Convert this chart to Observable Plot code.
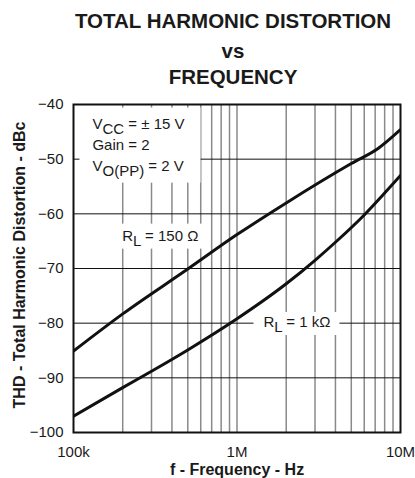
<!DOCTYPE html>
<html>
<head>
<meta charset="utf-8">
<script src="https://cdn.jsdelivr.net/npm/d3@7"></script>
<script src="https://cdn.jsdelivr.net/npm/@observablehq/plot@0.6"></script>
<style>
  html, body { margin: 0; padding: 0; background: #fff; }
  svg { display: block; }
</style>
</head>
<body>
<div id="chart"></div>
<script>
// ---- data ----
const titleLines = ["TOTAL HARMONIC DISTORTION", "vs", "FREQUENCY"];
const xLabel = "f - Frequency - Hz";
const yLabel = "THD - Total Harmonic Distortion - dBc";

const xTicks = [1e5, 1e6, 1e7];
const xTickLabels = ["100k", "1M", "10M"];
const yTicks = [-100, -90, -80, -70, -60, -50, -40];
const yTickLabels = ["\u2212100", "\u221290", "\u221280", "\u221270", "\u221260", "\u221250", "\u221240"];

const gridFreqs = [2e5, 3e5, 4e5, 5e5, 6e5, 7e5, 8e5, 9e5, 1e6,
                   2e6, 3e6, 4e6, 5e6, 6e6, 7e6, 8e6, 9e6];
const gridLevels = [-90, -80, -70, -60, -50];

// R_L = 150 ohm
const freq150 = [1e5, 2e5, 5e5, 1e6, 2e6, 5e6, 7.33e6, 1e7];
const thd150  = [-85.1, -78.3, -70.1, -63.8, -58.0, -50.8, -48.0, -44.6];

// R_L = 1 kohm
const freq1k = [1e5, 2e5, 3e5, 5e5, 1e6, 2e6, 3e6, 4e6, 6e6, 8e6, 1e7];
const thd1k  = [-97.0, -91.8, -88.8, -84.9, -79.2, -72.8, -68.5, -65.2, -60.2, -56.2, -53.0];

// annotations (text with _{...} = subscript)
const noteText  = ["V_{CC} = \u00b1 15 V", "Gain = 2", "V_{O(PP)} = 2 V", "R_{L} = 150 \u03a9", "R_{L} = 1 k\u03a9"];
const noteFreq  = [1.306e5, 1.306e5, 1.306e5, 1.986e5, 1.452e6];
const noteThd   = [-44.4, -48.4, -52.1, -64.9, -80.7];
const noteGroup = [0, 0, 0, 1, 2];

// ---- build tables ----
const curves = [
  ...freq150.map((f, i) => ({f, thd: thd150[i], load: "150"})),
  ...freq1k.map((f, i) => ({f, thd: thd1k[i], load: "1k"}))
];
const notes = noteText.map((text, i) => ({text, f: noteFreq[i], thd: noteThd[i], group: noteGroup[i]}));

const FONT = "'Liberation Sans', Arial, Helvetica, sans-serif";
const titleDy = [-77, -47, -21];

const chart = Plot.plot({
  width: 415,
  height: 478,
  marginLeft: 73,
  marginRight: 15,
  marginTop: 104,
  marginBottom: 46,
  style: {fontFamily: FONT, fontSize: "15px", color: "#1a1a1a", background: "#fff"},
  x: {type: "log", domain: [1e5, 1e7]},
  y: {domain: [-100, -40]},
  marks: [
    Plot.ruleX(gridFreqs, {x: d => d, stroke: "#8a8a8a", strokeWidth: 1.5}),
    Plot.ruleY(gridLevels, {y: d => d, stroke: "#111", strokeWidth: 1}),
    Plot.line(curves, {x: "f", y: "thd", z: "load", stroke: "#111", strokeWidth: 3,
                       curve: "monotone-x", clip: true}),
    Plot.text(notes, {x: "f", y: "thd", text: "text", textAnchor: "start", lineAnchor: "bottom",
                      fontSize: 15, fill: "#1a1a1a"}),
    Plot.frame({stroke: "#111", strokeWidth: 2}),
    Plot.axisX({ticks: xTicks, tickFormat: d => xTickLabels[xTicks.indexOf(d)],
                tickSize: 0, tickPadding: 14, label: null}),
    Plot.axisY({ticks: yTicks, tickFormat: d => yTickLabels[yTicks.indexOf(d)],
                tickSize: 0, tickPadding: 10, label: null}),
    Plot.text([xLabel], {text: d => d, frameAnchor: "bottom", lineAnchor: "bottom", dy: 42.3,
                         fontWeight: "bold", fontSize: 16}),
    Plot.text([yLabel], {text: d => d, frameAnchor: "left", rotate: -90, lineAnchor: "middle",
                         textAnchor: "middle", dx: -53.8, dy: -3.5, fontWeight: "bold", fontSize: 16}),
    ...titleLines.map((t, i) => Plot.text([t], {text: d => d, frameAnchor: "top", lineAnchor: "bottom",
                         dx: -4, dy: titleDy[i], fontWeight: "bold", fontSize: 20.5}))
  ]
});

document.getElementById("chart").appendChild(chart);

// ---- subscripts and label backgrounds ----
const svg = d3.select(chart);
const subShift = 5;
const noteEls = [];
svg.selectAll("text").each(function() {
  const t = this.textContent;
  const idx = noteText.indexOf(t);
  if (idx < 0) return;
  const sel = d3.select(this);
  sel.text(null);
  const parts = t.split(/_\{([^}]*)\}/);
  let cur = 0;
  parts.forEach((p, k) => {
    if (!p) return;
    const target = (k % 2 === 1) ? subShift : 0;
    const ts = sel.append("tspan").text(p);
    if (target !== cur) ts.attr("dy", target - cur);
    cur = target;
  });
  noteEls.push({el: this, group: noteGroup[idx]});
});

const pads = {0: {l: 13, r: 16, t: 7, b: 4}, 1: {l: 4, r: 10, t: 3, b: 0}, 2: {l: 10, r: 9, t: 1, b: 0}};
const svgRect = chart.getBoundingClientRect();
const boxes = {};
noteEls.forEach(({el, group}) => {
  const r = el.getBoundingClientRect();
  const b = boxes[group] || {x1: Infinity, y1: Infinity, x2: -Infinity, y2: -Infinity};
  b.x1 = Math.min(b.x1, r.left - svgRect.left);
  b.y1 = Math.min(b.y1, r.top - svgRect.top);
  b.x2 = Math.max(b.x2, r.right - svgRect.left);
  b.y2 = Math.max(b.y2, r.bottom - svgRect.top);
  boxes[group] = b;
});
const bg = svg.insert("g", 'g[aria-label="line"]').attr("aria-label", "label-backgrounds");
Object.entries(boxes).forEach(([g, b]) => {
  const p = pads[g];
  bg.append("rect")
    .attr("x", b.x1 - p.l).attr("y", b.y1 - p.t)
    .attr("width", b.x2 - b.x1 + p.l + p.r).attr("height", b.y2 - b.y1 + p.t + p.b)
    .attr("fill", "#fff");
});
</script>
</body>
</html>
